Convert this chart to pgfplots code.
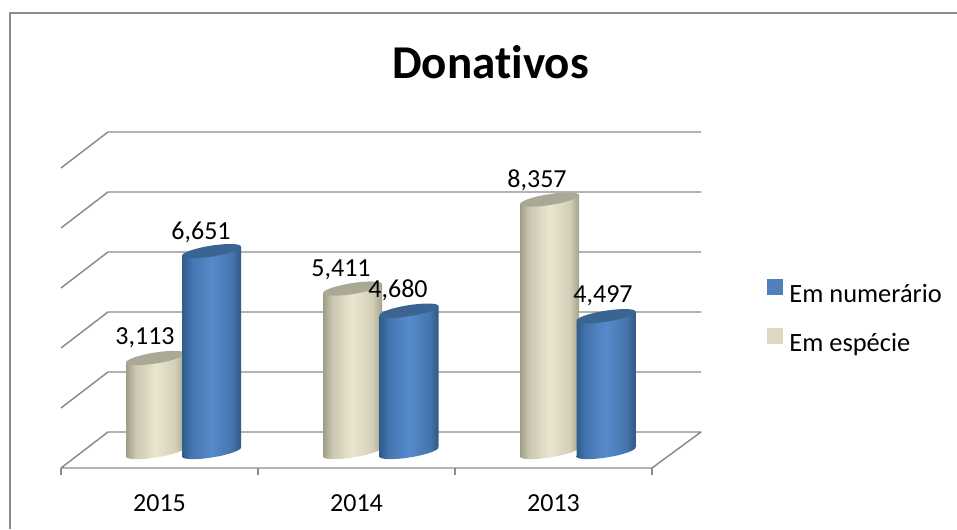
\documentclass[border=0pt]{standalone}
\usepackage{pgfplots}
\pgfplotsset{compat=1.18}
\usepackage{fontspec}
\setmainfont[Ligatures=NoCommon]{Carlito}
\definecolor{gridc}{HTML}{8A8A8A}
\definecolor{numer}{HTML}{4F81BD}
\definecolor{espec}{HTML}{DDD9C3}
\definecolor{toptopb}{HTML}{A9A995}
\definecolor{toptopn}{HTML}{3A6593}
\pgfdeclarehorizontalshading{beigecyl}{100bp}{
 color(0bp)=(white);
 rgb(25bp)=(0.62,0.62,0.53);
 rgb(33bp)=(0.80,0.78,0.70);
 rgb(50bp)=(0.92,0.90,0.81);
 rgb(67bp)=(0.83,0.81,0.72);
 rgb(75bp)=(0.64,0.64,0.55);
 color(100bp)=(white)}
\pgfdeclarehorizontalshading{bluecyl}{100bp}{
 color(0bp)=(white);
 rgb(25bp)=(0.18,0.36,0.54);
 rgb(33bp)=(0.27,0.46,0.69);
 rgb(50bp)=(0.34,0.54,0.80);
 rgb(67bp)=(0.27,0.46,0.68);
 rgb(75bp)=(0.19,0.35,0.52);
 color(100bp)=(white)}
\newcommand\cylell{\pgfpathellipse{\pgfqpoint{0pt}{0pt}}{\pgfqpoint{22.12pt}{3.50pt}}{\pgfqpoint{-0.64pt}{4.05pt}}}
\pgfdeclareplotmark{topb}{\pgfsetfillcolor{toptopb}\cylell\pgfusepathqfill}
\pgfdeclareplotmark{topn}{\pgfsetfillcolor{toptopn}\cylell\pgfusepathqfill}
\pgfdeclareplotmark{botb}{\cylell\pgfshadepath{beigecyl}{0}\pgfusepath{}}
\pgfdeclareplotmark{botn}{\cylell\pgfshadepath{bluecyl}{0}\pgfusepath{}}
\tikzset{
 cyl/.style={yshift={-0.1584*0.75*#1*1pt},yslant=0.1584}
}
\pgfplotsset{
 gl/.style={gridc,line width=1.1pt,forget plot,line join=round},
 bb/.style={ybar,bar shift=0pt,bar width=44.25pt,draw=none,shading=beigecyl,forget plot},
 bn/.style={ybar,bar shift=0pt,bar width=44.25pt,draw=none,shading=bluecyl,forget plot},
 mm/.style={only marks,mark=#1,forget plot},
}
\begin{document}
\begin{tikzpicture}
\useasboundingbox (0,0) rectangle (717.75pt,396.75pt);
\begin{axis}[
 at={(0,0)},anchor=south west,
 scale only axis,width=717.75pt,height=396.75pt,
 xmin=0,xmax=957,ymin=-2549.7,ymax=14966.9,
 axis lines=none,
 clip=true,
 clip mode=individual,
 legend style={at={(axis cs:767,5728)},anchor=north west,draw=none,fill=none,inner sep=0pt,
   font=\fontsize{19.8}{22}\selectfont,row sep=17.5pt,
   nodes={inner sep=0pt},
   /tikz/every odd column/.append style={column sep=5pt}},
 legend cell align=left,
]
% frame
\addplot[gl,line width=1.1pt] coordinates {(9.8,-2549.7)(9.8,14536.4)(957,14536.4)};
% walls
\addplot[gl] coordinates {(61,9404)(108,10596)(701,10596)};
\addplot[gl] coordinates {(61,7417.2)(108,8609.3)(701,8609.3)};
\addplot[gl] coordinates {(61,5430.5)(108,6622.5)(701,6622.5)};
\addplot[gl] coordinates {(61,3443.7)(108,4635.8)(701,4635.8)};
\addplot[gl] coordinates {(61,1457)(108,2649)(701,2649)};
\addplot[gl] coordinates {(61,-529.8)(108,662.3)(701,662.3)(652,-529.8)(61,-529.8)};
\addplot[gl] coordinates {(61,-529.8)(61,-761.6)};
\addplot[gl] coordinates {(258,-529.8)(258,-761.6)};
\addplot[gl] coordinates {(455,-529.8)(455,-761.6)};
\addplot[gl] coordinates {(652,-529.8)(652,-761.6)};
% 2015
\addplot[mm=botb] coordinates {(155.5,0)};
\addplot[bb,cyl=155.5] coordinates {(155.5,3113)};
\addplot[mm=topb] coordinates {(155.5,3113)};
\addplot[mm=botn] coordinates {(211.5,0)};
\addplot[bn,cyl=211.5] coordinates {(211.5,6651)};
\addplot[mm=topn] coordinates {(211.5,6651)};
% 2014
\addplot[mm=botb] coordinates {(352.5,0)};
\addplot[bb,cyl=352.5] coordinates {(352.5,5411)};
\addplot[mm=topb] coordinates {(352.5,5411)};
\addplot[mm=botn] coordinates {(409,0)};
\addplot[bn,cyl=409] coordinates {(409,4680)};
\addplot[mm=topn] coordinates {(409,4680)};
% 2013
\addplot[mm=botb] coordinates {(549.5,0)};
\addplot[bb,cyl=549.5] coordinates {(549.5,8357)};
\addplot[mm=topb] coordinates {(549.5,8357)};
\addplot[mm=botn] coordinates {(606,0)};
\addplot[bn,cyl=606] coordinates {(606,4497)};
\addplot[mm=topn] coordinates {(606,4497)};
% labels
\tikzset{lab/.style={anchor=base,inner sep=0pt,font=\fontsize{19.5}{22}\selectfont}}
\node[lab] at (axis cs:145,{(452-345)/.0302}) {3,113};
\node[lab] at (axis cs:201,{(452-239)/.0302}) {6,651};
\node[lab] at (axis cs:341,{(452-277)/.0302}) {5,411};
\node[lab] at (axis cs:398,{(452-297)/.0302}) {4,680};
\node[lab] at (axis cs:537,{(452-188)/.0302}) {8,357};
\node[lab] at (axis cs:603,{(452-303)/.0302}) {4,497};
\node[lab] at (axis cs:159.5,{(452-511)/.0302}) {2015};
\node[lab] at (axis cs:356.5,{(452-511)/.0302}) {2014};
\node[lab] at (axis cs:553.5,{(452-511)/.0302}) {2013};
\node[anchor=base,inner sep=0pt,font=\bfseries\fontsize{35.3}{40}\selectfont] at (axis cs:490.5,{(452-78)/.0302}) {Donativos};
% legend
\addlegendimage{legend image code/.code={\fill[numer] (0pt,0pt) rectangle (11.25pt,11.25pt);}}
\addlegendentry{Em numerário}
\addlegendimage{legend image code/.code={\fill[espec] (0pt,0pt) rectangle (11.25pt,11.25pt);}}
\addlegendentry{Em espécie}
\end{axis}
\end{tikzpicture}
\end{document}
